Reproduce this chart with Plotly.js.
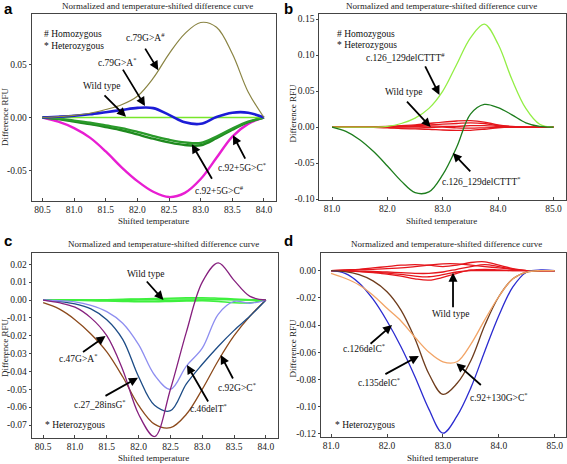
<!DOCTYPE html>
<html><head><meta charset="utf-8">
<script src="https://cdn.plot.ly/plotly-3.0.1.min.js"></script>
<style>html,body{margin:0;padding:0;background:#fff}#chart{width:567px;height:464px}</style>
</head><body><div id="chart"></div>
<script>
// ---------- Panel a ----------
const xA = [80.5, 80.75, 81.0, 81.25, 81.5, 81.75, 82.0, 82.25, 82.5, 82.75, 83.0, 83.25, 83.5, 83.75, 84.0];
const aHomo79 = [0, 0.0008, 0.002, 0.004, 0.0075, 0.012, 0.020, 0.037, 0.060, 0.079, 0.0895, 0.085, 0.060, 0.024, 0];
const aHet79 = [0, 0.0007, 0.0016, 0.003, 0.005, 0.007, 0.009, 0.0088, 0.0025, -0.0045, -0.006, 0.0005, 0.0045, 0.0045, 0];
const aWild = [0, 0, 0, 0, 0, 0, 0, 0, 0, 0, 0, 0, 0, 0, 0];
const aHet92a = [0, -0.0012, -0.003, -0.005, -0.0075, -0.010, -0.0135, -0.0175, -0.021, -0.0235, -0.024, -0.018, -0.0105, -0.004, 0];
const aHet92b = [0, -0.0015, -0.0038, -0.0062, -0.009, -0.012, -0.016, -0.020, -0.0235, -0.026, -0.0262, -0.0195, -0.0115, -0.0045, 0];
const aHomo92 = [0, -0.004, -0.010, -0.019, -0.032, -0.047, -0.060, -0.070, -0.075, -0.071, -0.058, -0.038, -0.018, -0.006, 0];
const xTicksA = [80.5, 81.0, 81.5, 82.0, 82.5, 83.0, 83.5, 84.0];
const xLabelsA = ["80.5", "81.0", "81.5", "82.0", "82.5", "83.0", "83.5", "84.0"];
const yTicksA = [-0.05, 0, 0.05];
const yLabelsA = ["-0.05", "0.00", "0.05"];

// ---------- Panel b ----------
const xB = [81.0, 81.25, 81.5, 81.75, 82.0, 82.25, 82.5, 82.75, 83.0, 83.25, 83.5, 83.75, 84.0, 84.25, 84.5, 84.75, 85.0];
const bHomo = [0, 0, 0, 0, 0.001, 0.005, 0.0125, 0.026, 0.050, 0.087, 0.124, 0.143, 0.115, 0.066, 0.026, 0.004, 0];
const bHet = [0, -0.006, -0.0175, -0.034, -0.054, -0.075, -0.091, -0.090, -0.066, -0.028, 0.018, 0.0315, 0.027, 0.017, 0.006, 0.001, 0];
const bWild1 = [0, 0, 0, 0.0005, 0.001, 0.002, 0.003, 0.005, 0.007, 0.0085, 0.009, 0.007, 0.003, 0.001, 0, 0, 0];
const bWild2 = [0, 0, 0, 0, 0.0005, 0.001, 0.002, 0.003, 0.004, 0.005, 0.006, 0.005, 0.002, 0.0005, 0, 0, 0];
const bWild3 = [0, 0, 0, 0, 0, 0.0005, 0.001, 0.0015, 0.001, 0.001, 0.002, 0.002, 0.001, 0, 0, 0, 0];
const bWild4 = [0, 0, 0, 0, -0.0005, -0.001, -0.001, -0.0005, 0, -0.001, -0.0015, -0.001, -0.0005, 0, 0, 0, 0];
const bWild5 = [0, 0, 0, -0.0005, -0.001, -0.002, -0.0025, -0.003, -0.004, -0.0045, -0.0045, -0.003, -0.001, 0, 0, 0, 0];
const xTicksB = [81, 82, 83, 84, 85];
const xLabelsB = ["81.0", "82.0", "83.0", "84.0", "85.0"];
const yTicksB = [-0.10, -0.05, 0, 0.05, 0.10, 0.15];
const yLabelsB = ["-0.10", "-0.05", "0.00", "0.05", "0.10", "0.15"];

// ---------- Panel c ----------
const xC = [80.5, 80.75, 81.0, 81.25, 81.5, 81.75, 82.0, 82.25, 82.5, 82.75, 83.0, 83.25, 83.5, 83.75, 84.0];
const c47 = [0, -0.0015, -0.004, -0.010, -0.020, -0.039, -0.064, -0.0765, -0.050, -0.018, 0.010, 0.0208, 0.011, 0.002, 0];
const c92 = [-0.0015, -0.005, -0.011, -0.019, -0.029, -0.043, -0.059, -0.0695, -0.0715, -0.064, -0.050, -0.034, -0.020, -0.009, 0];
const c27 = [0, -0.0008, -0.0022, -0.005, -0.011, -0.022, -0.043, -0.059, -0.062, -0.047, -0.036, -0.026, -0.017, -0.009, 0];
const c46 = [0, -0.0004, -0.001, -0.003, -0.0065, -0.013, -0.025, -0.042, -0.050, -0.037, -0.027, -0.008, -0.0008, -0.0018, 0];
const cWild1 = [0, 0, 0, 0, 0.0002, 0.0004, 0.0006, 0.0008, 0.001, 0.0012, 0.0013, 0.001, 0.0006, 0.0002, 0];
const cWild2 = [0, 0, 0, 0, 0, 0.0002, 0.0003, 0.0004, 0.0005, 0.0006, 0.0006, 0.0004, 0.0002, 0, 0];
const cWild3 = [0, 0, -0.0002, -0.0004, -0.0006, -0.0008, -0.001, -0.001, -0.0008, -0.0006, -0.0004, -0.0008, -0.0015, -0.0015, 0];
const cWild4 = [0, 0, 0, -0.0002, -0.0003, -0.0004, -0.0005, -0.0005, -0.0004, -0.0002, 0, 0.0002, 0.0002, 0, 0];
const yTicksC = [-0.07, -0.06, -0.05, -0.04, -0.03, -0.02, -0.01, 0, 0.01, 0.02];
const yLabelsC = ["-0.07", "-0.06", "-0.05", "-0.04", "-0.03", "-0.02", "-0.01", "0.00", "0.01", "0.02"];

// ---------- Panel d ----------
const xD = [81.0, 81.25, 81.5, 81.75, 82.0, 82.25, 82.5, 82.75, 83.0, 83.25, 83.5, 83.75, 84.0, 84.25, 84.5, 84.75, 85.0];
const d126 = [0, -0.002, -0.009, -0.021, -0.037, -0.056, -0.078, -0.102, -0.1195, -0.107, -0.086, -0.059, -0.033, -0.012, -0.001, 0.0005, 0];
const d135 = [0, -0.0007, -0.003, -0.0075, -0.0155, -0.029, -0.050, -0.076, -0.091, -0.083, -0.066, -0.040, -0.019, -0.006, -0.001, 0, 0];
const d92 = [-0.002, -0.0056, -0.0105, -0.018, -0.0277, -0.037, -0.049, -0.060, -0.067, -0.067, -0.054, -0.036, -0.019, -0.006, -0.001, 0, 0];
const dWild1 = [0, 0.0005, 0.001, 0.002, 0.003, 0.004, 0.0045, 0.004, 0.003, 0.004, 0.006, 0.0065, 0.004, 0.0015, 0, 0, 0];
const dWild2 = [0, 0.0003, 0.0007, 0.001, 0.0015, 0.002, 0.003, 0.004, 0.005, 0.005, 0.004, 0.003, 0.002, 0.001, 0, 0, 0];
const dWild3 = [0, 0, -0.0003, -0.0005, -0.001, -0.0015, -0.002, -0.002, -0.001, 0.001, 0.003, 0.0045, 0.003, 0.001, 0, 0, 0];
const dWild4 = [0, -0.0003, -0.0007, -0.0015, -0.0025, -0.004, -0.006, -0.007, -0.005, -0.002, 0.0005, 0.001, 0.0005, 0, 0, 0, 0];
const dWild5 = [0, -0.0002, -0.0005, -0.001, -0.0018, -0.0028, -0.004, -0.0045, -0.003, -0.001, 0, 0, 0, 0, 0, 0, 0];
const yTicksD = [-0.12, -0.10, -0.08, -0.06, -0.04, -0.02, 0];
const yLabelsD = ["-0.12", "-0.10", "-0.08", "-0.06", "-0.04", "-0.02", "0.00"];

const chartTitle = "Normalized and temperature-shifted difference curve";
const xTitle = "Shifted temperature";
const yTitle = "Difference RFU";

const SERIF = "Liberation Serif, DejaVu Serif, Times, serif";
function ln(x, y, ax, color, width) {
  return {x: x, y: y, xaxis: 'x' + ax, yaxis: 'y' + ax, mode: 'lines', hoverinfo: 'skip', showlegend: false,
    line: {color: color, width: width, shape: 'spline', smoothing: 1}};
}
const traces = [
  ln(xA, aHomo92, '', '#e81ed2', 2.4),
  ln(xA, aHet92b, '', '#1f8a1f', 2.4),
  ln(xA, aHet92a, '', '#2a9a2a', 2.4),
  ln(xA, aWild, '', '#77e62a', 1.6),
  ln(xA, aHet79, '', '#1c1cd6', 2.6),
  ln(xA, aHomo79, '', '#8a8443', 1.2),

  ln(xB, bWild1, '2', '#e5161c', 1.3),
  ln(xB, bWild2, '2', '#e5161c', 1.3),
  ln(xB, bWild3, '2', '#e5161c', 1.3),
  ln(xB, bWild4, '2', '#e5161c', 1.3),
  ln(xB, bWild5, '2', '#e5161c', 1.3),
  ln(xB, bHomo, '2', '#93ee45', 1.3),
  ln(xB, bHet, '2', '#1d7d1d', 1.3),

  ln(xC, cWild1, '3', '#3ef03e', 1.5),
  ln(xC, cWild2, '3', '#3ef03e', 1.5),
  ln(xC, cWild3, '3', '#3ef03e', 1.5),
  ln(xC, cWild4, '3', '#3ef03e', 1.5),
  ln(xC, c92, '3', '#8c4a1c', 1.3),
  ln(xC, c27, '3', '#1d4c86', 1.3),
  ln(xC, c46, '3', '#8e8ef0', 1.3),
  ln(xC, c47, '3', '#86207e', 1.3),

  ln(xD, dWild1, '4', '#e5161c', 1.3),
  ln(xD, dWild2, '4', '#e5161c', 1.3),
  ln(xD, dWild3, '4', '#e5161c', 1.3),
  ln(xD, dWild4, '4', '#e5161c', 1.3),
  ln(xD, dWild5, '4', '#e5161c', 1.3),
  ln(xD, d126, '4', '#2b2bd0', 1.3),
  ln(xD, d135, '4', '#6e3c1c', 1.3),
  ln(xD, d92, '4', '#f2a466', 1.3)
];

const W = 567, H = 464;
function ax(domain, range, tv, tt, tickdir, len) {
  return {domain: domain, range: range, tickmode: 'array', tickvals: tv, ticktext: tt,
    showline: true, linecolor: '#444', linewidth: 1, mirror: true, ticks: tickdir, ticklen: len,
    tickcolor: '#444', showgrid: false, zeroline: false, fixedrange: true,
    tickfont: {family: SERIF, size: 9.5, color: '#222'}};
}
const layout = {
  width: W, height: H, margin: {l: 0, r: 0, t: 0, b: 0}, showlegend: false,
  paper_bgcolor: '#fff', plot_bgcolor: '#fff', font: {family: SERIF, size: 9, color: '#222'},
  xaxis: ax([31.7 / W, 275.7 / W], [80.33, 84.185], xTicksA, xLabelsA, 'inside', 3),
  yaxis: ax([1 - 201 / H, 1 - 14 / H], [-0.0787, 0.0975], yTicksA, yLabelsA, 'outside', 2),
  xaxis2: ax([319.3 / W, 565.7 / W], [80.77, 85.22], xTicksB, xLabelsB, 'inside', 3),
  yaxis2: ax([1 - 199.5 / H, 1 - 14 / H], [-0.1005, 0.157], yTicksB, yLabelsB, 'outside', 2),
  xaxis3: ax([31.7 / W, 278 / W], [80.32, 84.19], xTicksA, xLabelsA, 'inside', 3),
  yaxis3: ax([1 - 437.5 / H, 1 - 252.7 / H], [-0.077, 0.0265], yTicksC, yLabelsC, 'outside', 2),
  xaxis4: ax([321 / W, 566 / W], [80.82, 85.2], xTicksB, xLabelsB, 'inside', 3),
  yaxis4: ax([1 - 437 / H, 1 - 252.7 / H], [-0.1223, 0.0132], yTicksD, yLabelsD, 'outside', 2),
  annotations: []
};
layout.xaxis.anchor = 'y'; layout.yaxis.anchor = 'x';
layout.xaxis2.anchor = 'y2'; layout.yaxis2.anchor = 'x2';
layout.xaxis3.anchor = 'y3'; layout.yaxis3.anchor = 'x3';
layout.xaxis4.anchor = 'y4'; layout.yaxis4.anchor = 'x4';

const A = layout.annotations;
function paperText(text, px, py, opts) {
  A.push(Object.assign({text: text, xref: 'paper', yref: 'paper', x: px / W, y: 1 - py / H,
    showarrow: false, xanchor: 'center', yanchor: 'middle', font: {family: SERIF, size: 9, color: '#222'}}, opts || {}));
}
function dataText(text, axn, x, y, opts) {
  A.push(Object.assign({text: text, xref: 'x' + axn, yref: 'y' + axn, x: x, y: y, showarrow: false,
    xanchor: 'center', yanchor: 'middle', font: {family: SERIF, size: 9.5, color: '#111'}}, opts || {}));
}
function arrow(axn, x, y, dx, dy) {
  A.push({text: '', xref: 'x' + axn, yref: 'y' + axn, x: x, y: y, ax: dx, ay: dy, showarrow: true,
    arrowhead: 2, arrowsize: 1, arrowwidth: 1.8, arrowcolor: '#000', standoff: 0, startstandoff: 0});
}
// panel letters
const letterFont = {family: 'Liberation Sans, Arial, sans-serif', size: 15, color: '#000', weight: 'bold'};
paperText('<b>a</b>', 8, 8, {font: letterFont});
paperText('<b>b</b>', 288, 8, {font: letterFont});
paperText('<b>c</b>', 8, 240, {font: letterFont});
paperText('<b>d</b>', 288, 240, {font: letterFont});
// titles
paperText(chartTitle, 157, 5.5);
paperText(chartTitle, 441, 5.5);
paperText(chartTitle, 163, 244);
paperText(chartTitle, 446, 244);
// axis titles
paperText(xTitle, 153, 221.5);
paperText(xTitle, 441, 221.5);
paperText(xTitle, 153, 458);
paperText(xTitle, 442, 458);
paperText(yTitle, 5, 117, {textangle: -90});
paperText(yTitle, 292.5, 113, {textangle: -90});
paperText(yTitle, 5, 348, {textangle: -90});
paperText(yTitle, 292.5, 348, {textangle: -90});

// panel a annotations
dataText('# Homozygous', '', 80.5, 0.0783, {xanchor: 'left'});
dataText('* Heterozygous', '', 80.5, 0.0675, {xanchor: 'left'});
dataText('c.79G&gt;A<sup>#</sup>', '', 82.12, 0.0757);
dataText('c.79G&gt;A<sup>*</sup>', '', 81.69, 0.0521);
dataText('Wild type', '', 81.43, 0.0298);
dataText('c.92+5G&gt;C<sup>#</sup>', '', 83.30, -0.0686);
dataText('c.92+5G&gt;C<sup>*</sup>', '', 83.66, -0.0466);
arrow('', 82.33, 0.0446, -14, -23);
arrow('', 82.12, 0.0107, -23, -38);
arrow('', 81.82, 0.0006, -23, -23);
arrow('', 82.86, -0.0252, 21, 36);
arrow('', 83.51, -0.0167, 13, 25);

// panel b annotations
dataText('# Homozygous', '2', 81.05, 0.1298, {xanchor: 'left'});
dataText('* Heterozygous', '2', 81.05, 0.1146, {xanchor: 'left'});
dataText('c.126_129delCTTT<sup>#</sup>', '2', 82.32, 0.0967);
dataText('Wild type', '2', 82.29, 0.0493);
dataText('c.126_129delCTTT<sup>*</sup>', '2', 83.70, -0.075);
arrow('2', 82.94, 0.0447, -15, -30);
arrow('2', 82.78, 0.0, -25, -27);
arrow('2', 83.18, -0.0359, 19, 20);

// panel c annotations
dataText('* Heterozygous', '3', 80.5, -0.0700, {xanchor: 'left'});
dataText('Wild type', '3', 82.11, 0.0146);
dataText('c.47G&gt;A<sup>*</sup>', '3', 81.06, -0.0327);
dataText('c.27_28insG<sup>*</sup>', '3', 81.40, -0.0583);
dataText('c.46delT<sup>*</sup>', '3', 83.10, -0.0607);
dataText('c.92G&gt;C<sup>*</sup>', '3', 83.55, -0.0486);
arrow('3', 82.39, 0.0, -18, -20);
arrow('3', 81.48, -0.0202, -24, 17);
arrow('3', 81.99, -0.0435, -34, 19);
arrow('3', 82.76, -0.0364, 22, 38);
arrow('3', 83.29, -0.0308, 13, 25);

// panel d annotations
dataText('* Heterozygous', '4', 81.04, -0.1135, {xanchor: 'left'});
dataText('Wild type', '4', 83.13, -0.0319);
dataText('c.126delC<sup>*</sup>', '4', 81.58, -0.0571);
dataText('c.135delC<sup>*</sup>', '4', 81.85, -0.0816);
dataText('c.92+130G&gt;C<sup>*</sup>', '4', 84.0, -0.0926);
arrow('4', 83.18, -0.0015, 0, 36);
arrow('4', 82.09, -0.040, -23, 20);
arrow('4', 82.57, -0.0627, -35, 19);
arrow('4', 83.24, -0.0681, 26, 23);

Plotly.newPlot('chart', traces, layout, {staticPlot: true, displayModeBar: false});
</script>
</body></html>
